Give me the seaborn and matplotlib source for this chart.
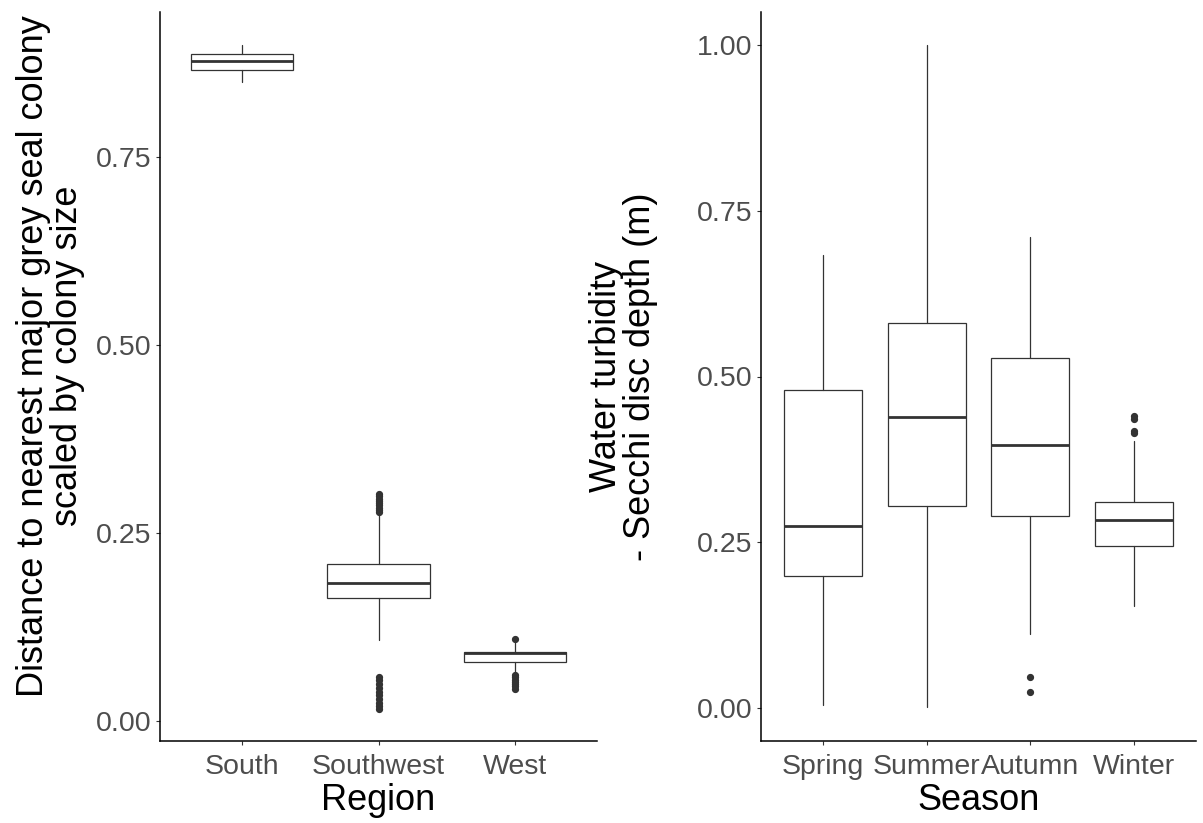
import matplotlib
matplotlib.use("Agg")
import matplotlib.pyplot as plt
import seaborn as sns

# ---- data ----
regions = ["South", "Southwest", "West"]
region_q1 = [0.866, 0.164, 0.079]
region_med = [0.878, 0.184, 0.0905]
region_q3 = [0.888, 0.209, 0.092]
region_whislo = [0.851, 0.108, 0.064]
region_whishi = [0.900, 0.276, 0.105]
region_outliers = [
    [],
    [0.016, 0.020, 0.024, 0.029, 0.034, 0.039, 0.044, 0.049, 0.054, 0.059,
     0.278, 0.281, 0.284, 0.287, 0.290, 0.293, 0.296, 0.299, 0.302],
    [0.043, 0.046, 0.049, 0.052, 0.055, 0.058, 0.061, 0.109],
]
region_ylabel = "Distance to nearest major grey seal colony\nscaled by colony size"
region_xlabel = "Region"
region_ticks = [0.00, 0.25, 0.50, 0.75]

seasons = ["Spring", "Summer", "Autumn", "Winter"]
season_q1 = [0.199, 0.304, 0.289, 0.244]
season_med = [0.274, 0.439, 0.397, 0.284]
season_q3 = [0.480, 0.581, 0.528, 0.310]
season_whislo = [0.005, 0.002, 0.111, 0.153]
season_whishi = [0.683, 1.000, 0.710, 0.402]
season_outliers = [[], [], [0.024, 0.046], [0.414, 0.418, 0.436, 0.441]]
season_ylabel = "Water turbidity\n- Secchi disc depth (m)"
season_xlabel = "Season"
season_ticks = [0.00, 0.25, 0.50, 0.75, 1.00]

# ---- style ----
sns.set_theme(style="ticks")
plt.rcParams["font.family"] = ["Liberation Sans", "DejaVu Sans"]

LINE = "#333333"
TICKTXT = "#4D4D4D"


def make_stats(cats, q1, med, q3, lo, hi, out):
    return [
        dict(label=c, q1=a, med=m, q3=b, whislo=l, whishi=h, fliers=o)
        for c, a, m, b, l, h, o in zip(cats, q1, med, q3, lo, hi, out)
    ]


def draw(ax, stats, cats, ticks, ylim, xlabel, ylabel, ylab_xy):
    pos = list(range(len(cats)))
    ax.bxp(
        stats, positions=pos, widths=0.75, showcaps=False, patch_artist=True,
        boxprops=dict(facecolor="white", edgecolor=LINE, linewidth=0.9),
        medianprops=dict(color=LINE, linewidth=2.0),
        whiskerprops=dict(color=LINE, linewidth=0.9),
        flierprops=dict(marker="o", markersize=4.2, markerfacecolor=LINE,
                        markeredgecolor=LINE, linestyle="none"),
    )
    ax.set_xlim(-0.6, len(cats) - 0.4)
    ax.set_ylim(*ylim)
    ax.set_xticks(pos)
    ax.set_xticklabels(cats)
    ax.set_yticks(ticks)
    ax.set_yticklabels([f"{t:.2f}" for t in ticks])
    ax.tick_params(axis="both", labelsize=20.5, labelcolor=TICKTXT, color=LINE,
                   length=3.2, width=0.8)
    ax.tick_params(axis="x", pad=6)
    ax.tick_params(axis="y", pad=3)
    sns.despine(ax=ax)
    for s in ("left", "bottom"):
        ax.spines[s].set_color("black")
        ax.spines[s].set_linewidth(1.1)
    ax.set_xlabel(xlabel, fontsize=26, color="black")
    ax.set_ylabel(ylabel, fontsize=26, color="black", linespacing=0.95)
    ax.xaxis.set_label_coords(0.5, -0.057)
    ax.yaxis.set_label_coords(*ylab_xy)
    ax.grid(False)


fig = plt.figure(figsize=(12.03, 8.23), dpi=100)
ax1 = fig.add_axes([160 / 1203, 82 / 823, 437 / 1203, 729 / 823])
ax2 = fig.add_axes([761 / 1203, 82 / 823, 435 / 1203, 729 / 823])

draw(ax1,
     make_stats(regions, region_q1, region_med, region_q3, region_whislo,
                region_whishi, region_outliers),
     regions, region_ticks, (-0.0266, 0.9435), region_xlabel, region_ylabel,
     (-0.172, 0.528))
draw(ax2,
     make_stats(seasons, season_q1, season_med, season_q3, season_whislo,
                season_whishi, season_outliers),
     seasons, season_ticks, (-0.05, 1.05), season_xlabel, season_ylabel,
     (-0.237, 0.5))

fig.savefig("out.png", dpi=100, facecolor="white")
